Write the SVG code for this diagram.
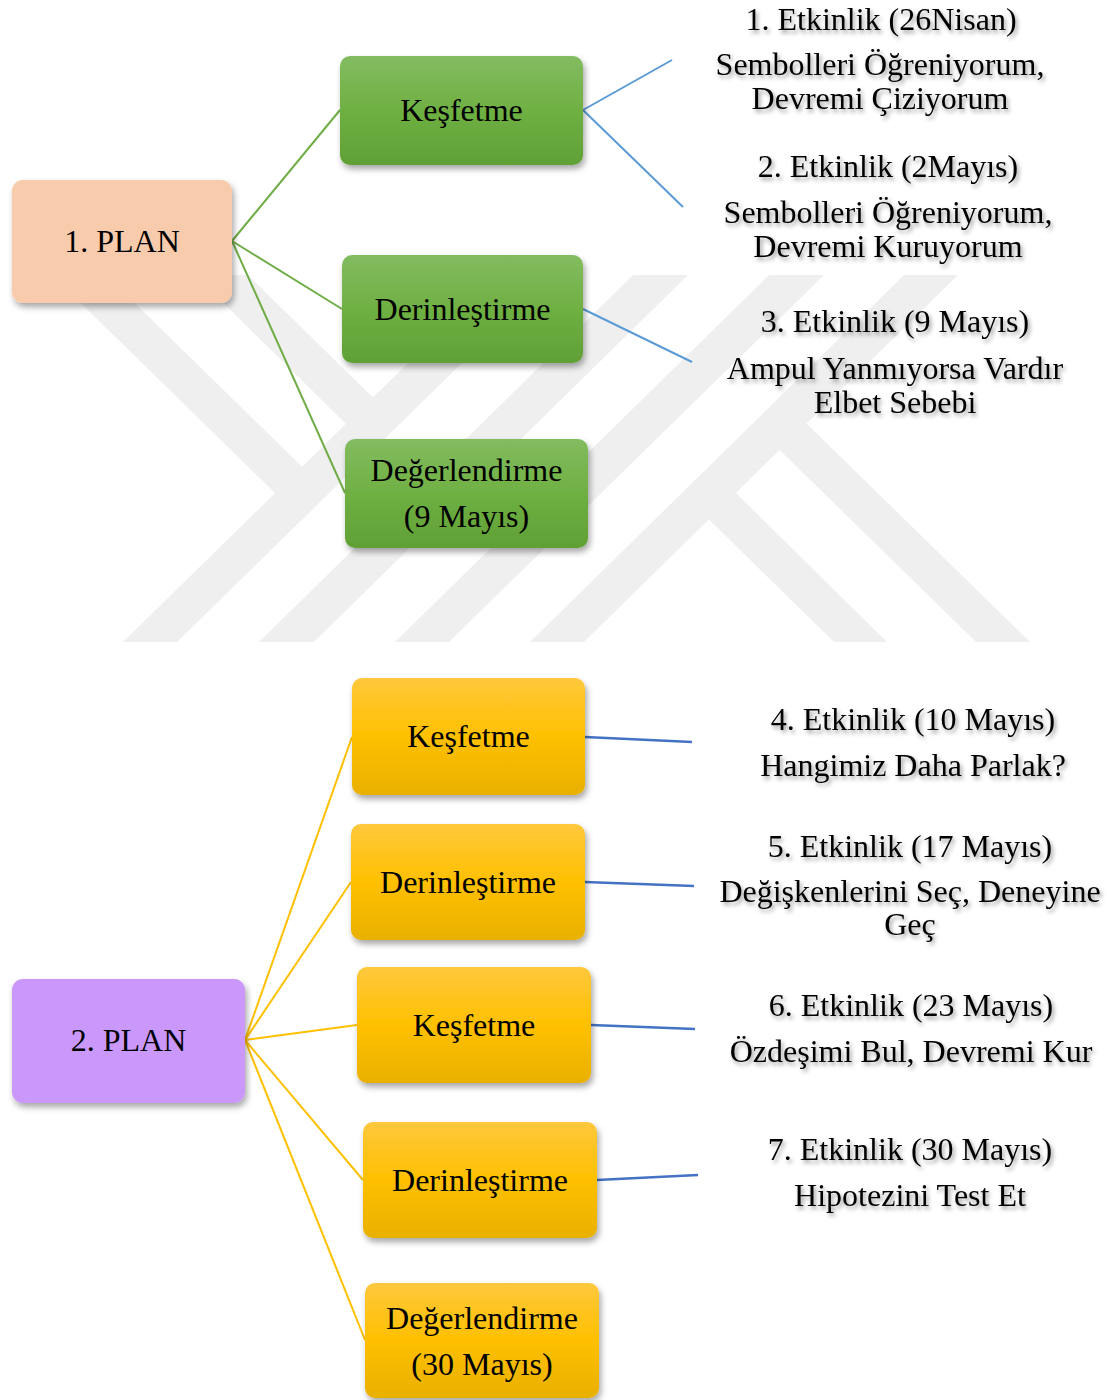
<svg xmlns="http://www.w3.org/2000/svg" width="1107" height="1400" viewBox="0 0 1107 1400">
  <defs>
    <linearGradient id="gGreen" x1="0" y1="0" x2="0" y2="1">
      <stop offset="0" stop-color="#83bc60"/>
      <stop offset="0.5" stop-color="#6fb043"/>
      <stop offset="1" stop-color="#60a035"/>
    </linearGradient>
    <linearGradient id="gYellow" x1="0" y1="0" x2="0" y2="1">
      <stop offset="0" stop-color="#ffc83d"/>
      <stop offset="0.5" stop-color="#ffc000"/>
      <stop offset="1" stop-color="#e8b000"/>
    </linearGradient>
    <filter id="boxShadow" x="-10%" y="-10%" width="125%" height="135%">
      <feDropShadow dx="2" dy="4" stdDeviation="3" flood-color="#000" flood-opacity="0.35"/>
    </filter>
    <filter id="textShadow" x="-5%" y="-20%" width="115%" height="160%">
      <feDropShadow dx="2" dy="3" stdDeviation="2" flood-color="#000" flood-opacity="0.4"/>
    </filter>
  </defs>
  <style>
    .wm { fill: #efefef; stroke: none; }
    .box { stroke: none; filter: url(#boxShadow); }
    .green { fill: url(#gGreen); }
    .yellow { fill: url(#gYellow); }
    .plan1 { fill: #f8cbad; }
    .plan2 { fill: #ca98fb; }
    .t { font-family: "Liberation Serif", "Times New Roman", serif; font-size: 32px; text-anchor: middle; fill: #000; }
    .lbl { font-family: "Liberation Serif", "Times New Roman", serif; font-size: 32px; text-anchor: middle; fill: #000; filter: url(#textShadow); }
    .cg { stroke: #70ad47; stroke-width: 2; fill: none; }
    .cy { stroke: #ffc000; stroke-width: 2; fill: none; }
    .cb { stroke: #5b9bd5; stroke-width: 2; fill: none; }
    .cd { stroke: #4472c4; stroke-width: 2.5; fill: none; }
  </style>

  <rect x="0" y="0" width="1107" height="1400" fill="#ffffff"/>

  <!-- watermark -->
  <g id="watermark">
    <polygon class="wm" points="123,642 177,642 552,275 498,275"/>
    <polygon class="wm" points="259,642 314,642 688,275 633,275"/>
    <polygon class="wm" points="395,642 449,642 824,275 769,275"/>
    <polygon class="wm" points="530,642 584,642 958,275 904,275"/>
    <polygon class="wm" points="52,275 106,275 329,493 275,493"/>
    <polygon class="wm" points="195,275 248,275 400,424 346,424"/>
    <polygon class="wm" points="1030,642 976,642 753,424 807,424"/>
    <polygon class="wm" points="887,642 834,642 682,493 736,493"/>
  </g>

  <!-- connectors -->
  <g id="connectors">
    <line class="cg" x1="232" y1="241" x2="340" y2="110"/>
    <line class="cg" x1="232" y1="241" x2="342" y2="309"/>
    <line class="cg" x1="232" y1="241" x2="345" y2="493"/>
    <line class="cb" x1="583" y1="110" x2="672" y2="60"/>
    <line class="cb" x1="583" y1="110" x2="683" y2="207"/>
    <line class="cb" x1="583" y1="309" x2="692" y2="362"/>
    <line class="cy" x1="245" y1="1040" x2="352" y2="737"/>
    <line class="cy" x1="245" y1="1040" x2="351" y2="882"/>
    <line class="cy" x1="245" y1="1040" x2="357" y2="1025"/>
    <line class="cy" x1="245" y1="1040" x2="363" y2="1180"/>
    <line class="cy" x1="245" y1="1040" x2="365" y2="1340"/>
    <line class="cd" x1="585" y1="737" x2="692" y2="742"/>
    <line class="cd" x1="585" y1="882" x2="694" y2="886"/>
    <line class="cd" x1="591" y1="1025" x2="695" y2="1029"/>
    <line class="cd" x1="597" y1="1180" x2="698" y2="1175"/>
  </g>

  <!-- plan 1 -->
  <g id="plan1">
    <rect class="box plan1" x="12" y="180" width="220" height="123" rx="11"/>
    <text class="t" x="122" y="252">1. PLAN</text>
  </g>
  <g id="p1-kesfetme">
    <rect class="box green" x="340" y="56" width="243" height="109" rx="10"/>
    <text class="t" x="461.5" y="121">Keşfetme</text>
  </g>
  <g id="p1-derinlestirme">
    <rect class="box green" x="342" y="255" width="241" height="108" rx="10"/>
    <text class="t" x="462.5" y="320">Derinleştirme</text>
  </g>
  <g id="p1-degerlendirme">
    <rect class="box green" x="345" y="439" width="243" height="109" rx="10"/>
    <text class="t" x="466.5" y="481">Değerlendirme</text>
    <text class="t" x="466.5" y="527">(9 Mayıs)</text>
  </g>

  <g id="etk1">
    <text class="lbl" x="881" y="30">1. Etkinlik (26Nisan)</text>
    <text class="lbl" x="880" y="75">Sembolleri Öğreniyorum,</text>
    <text class="lbl" x="880" y="109">Devremi Çiziyorum</text>
  </g>
  <g id="etk2">
    <text class="lbl" x="888" y="177">2. Etkinlik (2Mayıs)</text>
    <text class="lbl" x="888" y="223">Sembolleri Öğreniyorum,</text>
    <text class="lbl" x="888" y="257">Devremi Kuruyorum</text>
  </g>
  <g id="etk3">
    <text class="lbl" x="895" y="332">3. Etkinlik (9 Mayıs)</text>
    <text class="lbl" x="895" y="379">Ampul Yanmıyorsa Vardır</text>
    <text class="lbl" x="895" y="413">Elbet Sebebi</text>
  </g>

  <!-- plan 2 -->
  <g id="plan2">
    <rect class="box plan2" x="12" y="979" width="233" height="124" rx="11"/>
    <text class="t" x="128.5" y="1051">2. PLAN</text>
  </g>
  <g id="p2-kesfetme1">
    <rect class="box yellow" x="352" y="678" width="233" height="117" rx="10"/>
    <text class="t" x="468.5" y="747">Keşfetme</text>
  </g>
  <g id="p2-derinlestirme1">
    <rect class="box yellow" x="351" y="824" width="234" height="116" rx="10"/>
    <text class="t" x="468" y="893">Derinleştirme</text>
  </g>
  <g id="p2-kesfetme2">
    <rect class="box yellow" x="357" y="967" width="234" height="116" rx="10"/>
    <text class="t" x="474" y="1036">Keşfetme</text>
  </g>
  <g id="p2-derinlestirme2">
    <rect class="box yellow" x="363" y="1122" width="234" height="116" rx="10"/>
    <text class="t" x="480" y="1191">Derinleştirme</text>
  </g>
  <g id="p2-degerlendirme">
    <rect class="box yellow" x="365" y="1283" width="234" height="115" rx="10"/>
    <text class="t" x="482" y="1329">Değerlendirme</text>
    <text class="t" x="482" y="1375">(30 Mayıs)</text>
  </g>

  <g id="etk4">
    <text class="lbl" x="913" y="730">4. Etkinlik (10 Mayıs)</text>
    <text class="lbl" x="913" y="776">Hangimiz Daha Parlak?</text>
  </g>
  <g id="etk5">
    <text class="lbl" x="910" y="857">5. Etkinlik (17 Mayıs)</text>
    <text class="lbl" x="910" y="902">Değişkenlerini Seç, Deneyine</text>
    <text class="lbl" x="910" y="935">Geç</text>
  </g>
  <g id="etk6">
    <text class="lbl" x="911" y="1016">6. Etkinlik (23 Mayıs)</text>
    <text class="lbl" x="911" y="1062">Özdeşimi Bul, Devremi Kur</text>
  </g>
  <g id="etk7">
    <text class="lbl" x="910" y="1160">7. Etkinlik (30 Mayıs)</text>
    <text class="lbl" x="910" y="1206">Hipotezini Test Et</text>
  </g>
</svg>
